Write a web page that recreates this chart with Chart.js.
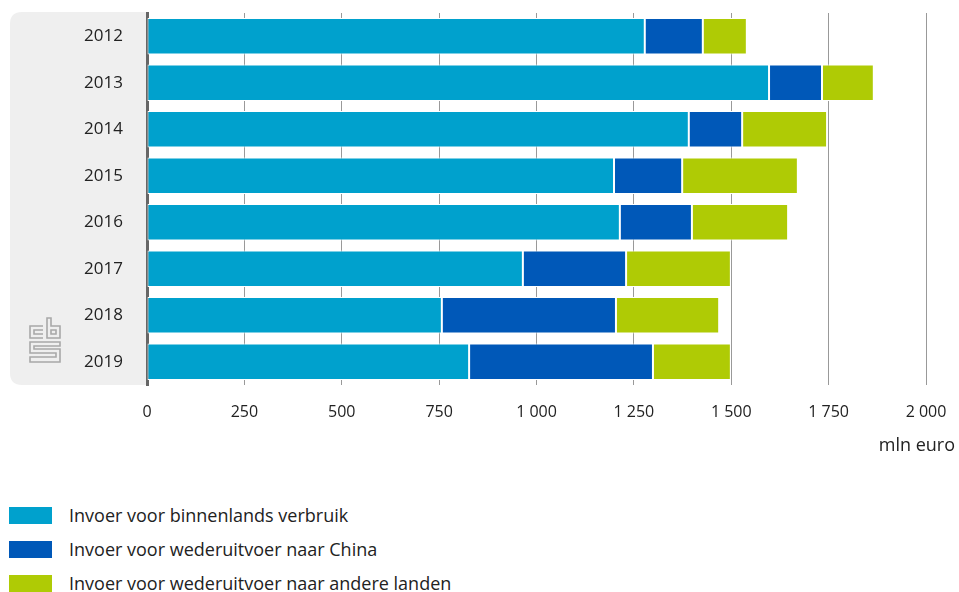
<!DOCTYPE html>
<html>
<head>
<meta charset="utf-8">
<script src="https://cdn.jsdelivr.net/npm/chart.js@4"></script>
<style>
  body { margin: 0; background: #fff; font-family: "Open Sans", sans-serif; }
  #wrap { width: 959px; height: 470px; position: relative; }
  #legend { margin-top: 28px; }
  .item { display: flex; align-items: center; height: 34px; color: #222; font-size: 18px; }
  .box { width: 43px; height: 17px; margin-left: 9px; margin-right: 17px; }
</style>
</head>
<body>
<div id="wrap"><canvas id="chart"></canvas></div>
<div id="legend"></div>
<script>
/* =========================
   DATA
========================= */
const years = ["2012", "2013", "2014", "2015", "2016", "2017", "2018", "2019"];
const binnenlands = [1278, 1597, 1391, 1199, 1214, 965, 757, 827];
const wederuitvoerChina = [149, 136, 137, 175, 185, 265, 447, 472];
const wederuitvoerAndere = [113, 133, 218, 297, 247, 269, 265, 200];
const seriesNames = [
  "Invoer voor binnenlands verbruik",
  "Invoer voor wederuitvoer naar China",
  "Invoer voor wederuitvoer naar andere landen"
];
const colors = ["#00a1cd", "#0058b8", "#afcb05"];

// thousands separator like "1 000"
function fmt(v) {
  return v >= 1000 ? Math.floor(v / 1000) + " " + String(v % 1000).padStart(3, "0") : String(v);
}

/* =========================
   PLUGINS
========================= */
const panel = {
  id: "panel",
  beforeDraw(chart) {
    const ctx = chart.ctx;
    const a = chart.chartArea;
    const x0 = 10, y0 = a.top - 1, x1 = a.left, y1 = a.bottom, r = 12;
    ctx.save();
    ctx.fillStyle = "#efefef";
    ctx.beginPath();
    ctx.moveTo(x1, y0);
    ctx.lineTo(x0 + r, y0);
    ctx.quadraticCurveTo(x0, y0, x0, y0 + r);
    ctx.lineTo(x0, y1 - r);
    ctx.quadraticCurveTo(x0, y1, x0 + r, y1);
    ctx.lineTo(x1, y1);
    ctx.closePath();
    ctx.fill();

    // cbs logo (approximate)
    ctx.strokeStyle = "#a8a8a8";
    ctx.lineWidth = 1.6;
    const lx = 30, ly = 318;
    ctx.beginPath();
    // c
    ctx.moveTo(lx + 13, ly + 8); ctx.lineTo(lx, ly + 8); ctx.lineTo(lx, ly + 20); ctx.lineTo(lx + 13, ly + 20);
    ctx.moveTo(lx + 13, ly + 12); ctx.lineTo(lx + 4, ly + 12); ctx.lineTo(lx + 4, ly + 16); ctx.lineTo(lx + 13, ly + 16);
    // b
    ctx.moveTo(lx + 17, ly); ctx.lineTo(lx + 17, ly + 20); ctx.lineTo(lx + 30, ly + 20); ctx.lineTo(lx + 30, ly + 8); ctx.lineTo(lx + 21, ly + 8); ctx.lineTo(lx + 21, ly);
    ctx.closePath();
    ctx.rect(lx + 21, ly + 12, 5, 4);
    // s
    ctx.moveTo(lx + 30, ly + 24); ctx.lineTo(lx, ly + 24); ctx.lineTo(lx, ly + 35); ctx.lineTo(lx + 26, ly + 35); ctx.lineTo(lx + 26, ly + 39); ctx.lineTo(lx, ly + 39);
    ctx.lineTo(lx, ly + 44); ctx.lineTo(lx + 30, ly + 44); ctx.lineTo(lx + 30, ly + 31); ctx.lineTo(lx + 4, ly + 31); ctx.lineTo(lx + 4, ly + 28); ctx.lineTo(lx + 30, ly + 28); ctx.closePath();
    ctx.stroke();
    ctx.restore();
  },
  afterDraw(chart) {
    const ctx = chart.ctx;
    ctx.save();
    ctx.fillStyle = "#222";
    ctx.font = "18px 'Open Sans'";
    ctx.textAlign = "right";
    ctx.textBaseline = "middle";
    ctx.fillText("mln euro", 955, 446);
    ctx.restore();
  }
};

/* =========================
   CHART
========================= */
const ctx = document.getElementById("chart").getContext("2d");

new Chart(ctx, {
  type: "bar",
  data: {
    labels: years,
    datasets: [binnenlands, wederuitvoerChina, wederuitvoerAndere].map((d, i) => ({
      label: seriesNames[i],
      data: d,
      backgroundColor: colors[i],
      borderColor: "#ffffff",
      borderWidth: 1,
      borderSkipped: false,
      barPercentage: 0.79,
      categoryPercentage: 1
    }))
  },
  options: {
    indexAxis: "y",
    responsive: true,
    maintainAspectRatio: false,
    animation: false,
    layout: { padding: { top: 13, right: 33, left: 0, bottom: 0 } },
    plugins: {
      legend: { display: false },
      tooltip: { enabled: false }
    },
    scales: {
      x: {
        stacked: true,
        min: 0,
        max: 2000,
        afterFit(scale) {
          scale.height = 85;
          scale.paddingLeft = 0;
          scale.paddingRight = 0;
        },
        ticks: {
          stepSize: 250,
          padding: 18,
          color: "#222",
          font: { family: "Open Sans", size: 16 },
          callback: v => fmt(v)
        },
        grid: { color: "#999999", lineWidth: 1, drawTicks: false },
        border: { display: false }
      },
      y: {
        stacked: true,
        afterFit(scale) {
          scale.width = 147;
          scale.paddingTop = 0;
          scale.paddingBottom = 0;
        },
        ticks: {
          padding: 24,
          color: "#222",
          font: { family: "Open Sans", size: 17 }
        },
        grid: { display: false, drawTicks: false },
        border: { color: "#666666", width: 3 }
      }
    }
  },
  plugins: [panel]
});

/* =========================
   LEGEND
========================= */
const legend = document.getElementById("legend");
seriesNames.forEach((name, i) => {
  const div = document.createElement("div");
  div.className = "item";
  div.innerHTML = `<div class="box" style="background:${colors[i]}"></div><span>${name}</span>`;
  legend.appendChild(div);
});
</script>
</body>
</html>
